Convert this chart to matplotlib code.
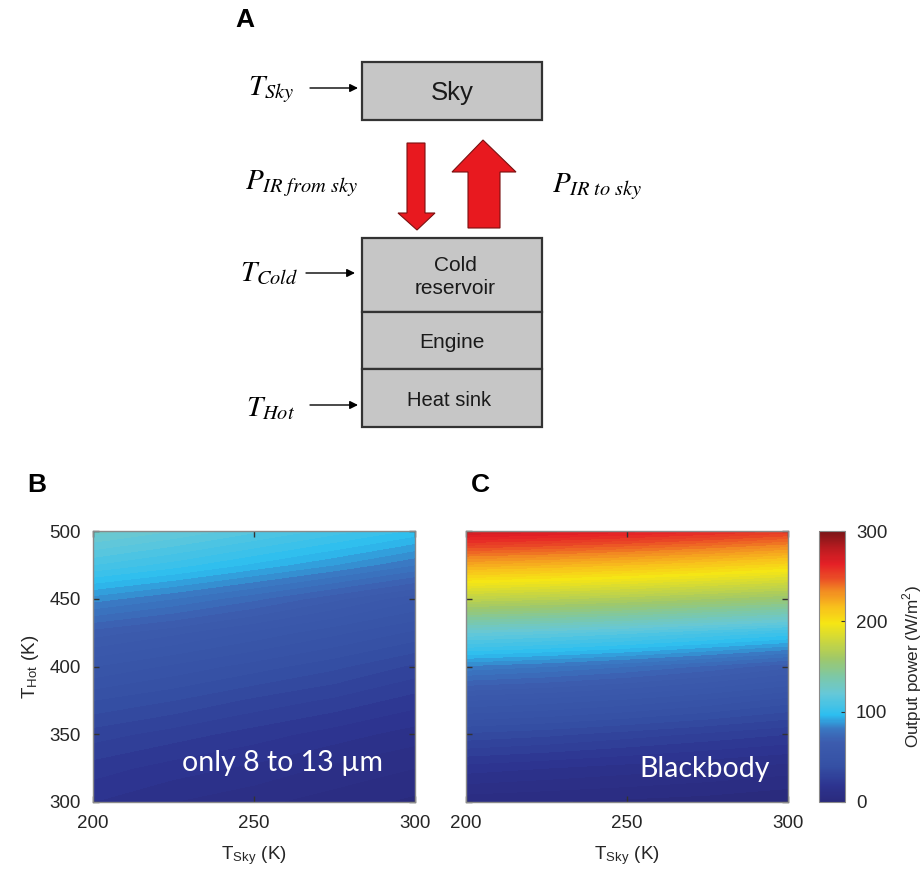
import numpy as np
import matplotlib
matplotlib.use("Agg")
import matplotlib.pyplot as plt
from matplotlib.colors import LinearSegmentedColormap, Normalize
from matplotlib.patches import Rectangle, Polygon

plt.rcParams['font.family'] = ['Liberation Sans', 'DejaVu Sans']
plt.rcParams['mathtext.fontset'] = 'stix'

# ---------------- data ----------------
t_sky = [200, 225, 250, 275, 300]
t_hot = [300, 325, 350, 375, 400, 425, 450, 475, 500]

# output power (W/m^2), rows follow t_hot, columns follow t_sky
power_window_300 = [16, 12, 9, 6, 3]
power_window_325 = [22, 18, 15, 11, 8]
power_window_350 = [30, 26, 22, 18, 14]
power_window_375 = [40, 36, 31, 27, 22]
power_window_400 = [52, 47, 42, 37, 31]
power_window_425 = [66, 61, 55, 49, 43]
power_window_450 = [86, 80, 73, 65, 57]
power_window_475 = [108, 102, 95, 88, 80]
power_window_500 = [126, 120, 113, 106, 99]

power_bb_300 = [5, 4, 3, 2, 0]
power_bb_325 = [18, 16, 14, 12, 10]
power_bb_350 = [35, 33, 30, 27, 24]
power_bb_375 = [56, 54, 51, 47, 42]
power_bb_400 = [83, 80, 76, 71, 65]
power_bb_425 = [120, 117, 113, 108, 103]
power_bb_450 = [172, 169, 165, 160, 155]
power_bb_475 = [223, 220, 216, 211, 205]
power_bb_500 = [273, 270, 266, 261, 255]

x_ticks = [200, 250, 300]
y_ticks = [300, 350, 400, 450, 500]
cbar_ticks = [0, 100, 200, 300]

power_window = np.array([power_window_300, power_window_325, power_window_350,
                         power_window_375, power_window_400, power_window_425,
                         power_window_450, power_window_475, power_window_500])
power_bb = np.array([power_bb_300, power_bb_325, power_bb_350, power_bb_375,
                     power_bb_400, power_bb_425, power_bb_450, power_bb_475,
                     power_bb_500])

cmap = LinearSegmentedColormap.from_list("jetlike", [
    (0.00, "#2a2a7c"), (0.06, "#2d3490"), (0.13, "#3550a4"), (0.22, "#3c5cae"),
    (0.27, "#3a78c2"), (0.32, "#2cbef0"), (0.40, "#66c8d8"), (0.47, "#80c8a0"),
    (0.53, "#a0c868"), (0.60, "#cfd83a"), (0.66, "#f6e614"), (0.72, "#f8c01c"),
    (0.78, "#f28a22"), (0.83, "#ea4a26"), (0.88, "#e52026"), (0.94, "#b81b20"),
    (1.00, "#7a1517")])
norm = Normalize(0, 300)
levels = np.linspace(0, 300, 76)

fig = plt.figure(figsize=(9.24, 8.77), dpi=100)
W, H = 924, 877

def fax(l, t, r, b):
    return [l / W, 1 - b / H, (r - l) / W, (b - t) / H]

tick_col = "#262626"

def style(ax):
    ax.set_xlim(200, 300)
    ax.set_ylim(300, 500)
    ax.set_xticks(x_ticks)
    ax.set_yticks(y_ticks)
    ax.tick_params(direction='in', length=4, width=1, top=True, right=True,
                   labelsize=13.5, colors="#333333", labelcolor=tick_col, pad=9)
    for s in ax.spines.values():
        s.set_color("#8a8a8a")
        s.set_linewidth(1.0)
    ax.set_xlabel(r"T$_{\mathregular{Sky}}$ (K)", fontsize=13.5, color=tick_col, labelpad=9)

axB = fig.add_axes(fax(93, 531, 415, 802))
axB.contourf(t_sky, t_hot, power_window, levels=levels, cmap=cmap, norm=norm)
style(axB)
axB.set_ylabel(r"T$_{\mathregular{Hot}}$ (K)", fontsize=13.5, color=tick_col, labelpad=6)
axB.text(259, 329, "only 8 to 13 µm", color="white", fontsize=20.5, family="Lato",
         ha="center", va="center")

axC = fig.add_axes(fax(466, 531, 788, 802))
axC.contourf(t_sky, t_hot, power_bb, levels=levels, cmap=cmap, norm=norm)
style(axC)
axC.set_yticklabels([])
axC.text(274, 324, "Blackbody", color="white", fontsize=20.5, family="Lato",
         ha="center", va="center")

cax = fig.add_axes(fax(819, 531, 845, 802))
cb = fig.colorbar(plt.cm.ScalarMappable(norm=norm, cmap=cmap), cax=cax, ticks=cbar_ticks)
cb.outline.set_edgecolor("#8a8a8a")
cax.tick_params(direction='in', length=3, labelsize=13.5, colors="#333333",
                labelcolor=tick_col, pad=8)
cb.set_label(r"Output power (W/m$^{\mathregular{2}}$)", fontsize=12.3, color=tick_col, labelpad=10)

# panel letters
fig.text(245 / W, 1 - 20 / H, "A", fontsize=19, fontweight="bold", ha="center", va="center")
fig.text(37 / W, 1 - 485 / H, "B", fontsize=19, fontweight="bold", ha="center", va="center")
fig.text(480 / W, 1 - 485 / H, "C", fontsize=19, fontweight="bold", ha="center", va="center")

# ---------------- panel A (schematic) ----------------
axA = fig.add_axes([0, 0, 1, 1], zorder=-1)
axA.set_xlim(0, W)
axA.set_ylim(H, 0)
axA.axis("off")

box_fc = "#c6c6c6"
box_ec = "#333333"
axA.add_patch(Rectangle((362, 62), 180, 58, fc=box_fc, ec=box_ec, lw=1.6))
axA.add_patch(Rectangle((362, 238), 180, 74, fc=box_fc, ec=box_ec, lw=1.6))
axA.add_patch(Rectangle((362, 312), 180, 57, fc=box_fc, ec=box_ec, lw=1.6))
axA.add_patch(Rectangle((362, 369), 180, 58, fc=box_fc, ec=box_ec, lw=1.6))
axA.text(452, 93, "Sky", fontsize=18.5, ha="center", va="center", color="#1a1a1a")
axA.text(455, 277, "Cold\nreservoir", fontsize=15, ha="center", va="center",
         color="#1a1a1a", linespacing=1.25)
axA.text(452, 343, "Engine", fontsize=15, ha="center", va="center", color="#1a1a1a")
axA.text(449, 400, "Heat sink", fontsize=14.5, ha="center", va="center", color="#1a1a1a")

red = "#e8191f"
down = [(407, 143), (425, 143), (425, 213), (435, 213), (417, 230), (398, 213), (407, 213)]
up = [(468, 228), (500, 228), (500, 172), (516, 172), (483, 140), (452, 172), (468, 172)]
axA.add_patch(Polygon(down, closed=True, fc=red, ec="#7a1010", lw=0.8))
axA.add_patch(Polygon(up, closed=True, fc=red, ec="#7a1010", lw=0.8))

for y, x0, x1 in [(88, 310, 358), (273, 306, 355), (405, 310, 358)]:
    axA.annotate("", xy=(x1, y), xytext=(x0, y),
                 arrowprops=dict(arrowstyle="-|>", color="black", lw=1.0,
                                 mutation_scale=12, shrinkA=0, shrinkB=0))

axA.text(271, 90, r"$T_{Sky}$", fontsize=21, ha="center", va="center")
axA.text(269, 273, r"$T_{Cold}$", fontsize=21, ha="center", va="center")
axA.text(271, 408, r"$T_{Hot}$", fontsize=21, ha="center", va="center")
axA.text(302, 184, r"$P_{IR\ from\ sky}$", fontsize=21, ha="center", va="center")
axA.text(597, 187, r"$P_{IR\ to\ sky}$", fontsize=21, ha="center", va="center")

fig.savefig("out.png", dpi=100)
